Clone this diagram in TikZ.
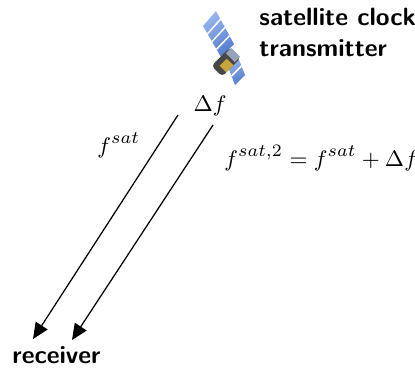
\documentclass[tikz,border=0pt]{standalone}
\usetikzlibrary{arrows.meta}
\begin{document}
\begin{tikzpicture}[x=0.4pt,y=-0.4pt,
  lbl/.style={inner sep=0pt,anchor=base west,font=\fontsize{10}{12}\selectfont\sffamily\bfseries},
  mlbl/.style={inner sep=0pt,anchor=base west,font=\fontsize{9.4}{11}\selectfont},
  signal/.style={line width=0.5pt,-{Triangle[length=6.4pt,width=5.6pt]}},
  stripe/.style={white,line width=0.6pt}]
\useasboundingbox (0,0) rectangle (415,369);

% satellite: two solar panel wings and the body between them
\definecolor{panelblue}{RGB}{84,124,208}
\definecolor{panellight}{RGB}{150,182,236}
\shade[left color=panellight,right color=panelblue,shading angle=30]
  (203,26) -- (216,11) -- (234,44) -- (221,57) -- cycle;
\foreach \f in {0.25,0.5,0.75} {
  \draw[stripe] ({203+18*\f},{26+31*\f}) -- ({216+18*\f},{11+33*\f});
}
\shade[left color=panellight,right color=panelblue,shading angle=30]
  (228,67) -- (238,57) -- (245,75) -- (235,85) -- cycle;
\draw[stripe] (231.5,76) -- (241.5,66);
\node[rotate=45,fill=black!72,minimum width=10.4pt,minimum height=6pt,
      inner sep=0pt,rounded corners=1.5pt] (body) at (226,62) {};
\node[rotate=45,fill={rgb,255:red,200;green,165;blue,60},minimum width=4pt,
      minimum height=3.8pt,inner sep=0pt] (gold) at (226.5,65.5) {};
\node[rotate=45,fill={rgb,255:red,150;green,162;blue,185},minimum width=3pt,
      minimum height=5pt,inner sep=0pt] (cap) at (233,55) {};

% labels
\node[lbl] (sat) at (259,25) {satellite clock};
\node[lbl] (tx) at (259,56) {transmitter};
\node[lbl] (rx) at (12,363) {receiver};
\node[mlbl] (df) at (193,111) {$\Delta f$};
\node[mlbl] (f1) at (97,153) {$f^{sat}$};
\node[mlbl] (f2) at (224,166) {$f^{sat,2}=f^{sat}+\Delta f$};

% signal paths down to the receiver
\coordinate (s1) at (178,115);
\coordinate (r1) at (33,339);
\coordinate (s2) at (213,125);
\coordinate (r2) at (72,340);
\draw[signal] (s1) -- (r1);
\draw[signal] (s2) -- (r2);
\end{tikzpicture}
\end{document}
